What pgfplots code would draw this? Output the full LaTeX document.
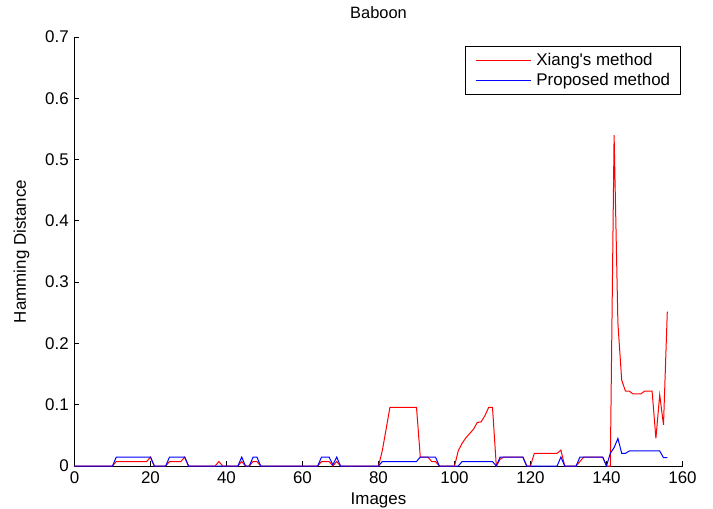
\documentclass[border=0pt]{standalone}
\usepackage{fontspec}
\setmainfont{Liberation Sans}
\usepackage{pgfplots}
\pgfplotsset{compat=1.18}
\begin{document}
\begin{tikzpicture}
\path[use as bounding box] (-74.5bp,-43bp) rectangle (638.5bp,466bp);
\begin{axis}[
  at={(0bp,0bp)}, anchor=south west,
  scale only axis, width=608bp, height=429bp,
  xmin=0, xmax=160, ymin=0, ymax=0.7,
  axis x line*=bottom, axis y line*=left,
  axis line style={black, line width=0.8bp},
  xtick={0,20,40,60,80,100,120,140,160},
  ytick={0,0.1,0.2,0.3,0.4,0.5,0.6,0.7},
  yticklabels={0,0.1,0.2,0.3,0.4,0.5,0.6,0.7},
  tick align=inside, major tick length=5bp,
  tick style={black, line width=0.8bp},
  /pgf/number format/assume math mode=true,
  ticklabel style={font=\fontsize{17}{20}\selectfont},
  yticklabel style={xshift=-2.2bp},
  xticklabel style={yshift=-2.2bp},
  title={Baboon},
  title style={at={(axis description cs:0.5,1.0303)}, anchor=base, yshift=0pt, font=\fontsize{16.5}{20}\selectfont},
  xlabel={Images},
  xlabel style={at={(axis description cs:0.5,-0.0909)}, anchor=base, font=\fontsize{17}{20}\selectfont},
  ylabel={Hamming Distance},
  ylabel style={at={(axis description cs:-0.0798,0.5)}, anchor=base, font=\fontsize{17}{20}\selectfont},
  legend style={at={(axis description cs:0.6423,0.979)}, anchor=north west,
    draw=black, line width=0.8bp, fill=white,
    font=\fontsize{17}{20}\selectfont,
    inner xsep=9.7bp, inner ysep=6bp, row sep=4.5bp,
    nodes={inner xsep=1bp, inner ysep=1bp},
    /tikz/every odd column/.append style={column sep=4.3bp}},
  legend cell align=left,
  legend image code/.code={\draw[#1] (0bp,0bp) -- (55bp,0bp);},
]
\addplot[red, line width=1bp] coordinates {
(0,0)(10,0)(11,0.0073)(19,0.0073)(20,0.0146)(21,0)(24,0)(25,0.0073)(28,0.0073)(29,0.0146)(30,0)
(37,0)(38,0.0073)(39,0)(43,0)(44,0.0073)(45,0)(46,0)(47,0.0073)(48,0.0073)(49,0)
(64,0)(65,0.0073)(67,0.0073)(68,0)(69,0.0073)(70,0)
(80,0)(81,0.025)(82,0.06)(83,0.0957)(90,0.0957)(91,0.0146)(93,0.0146)(94,0.0073)(95,0.0073)(96,0)
(100,0)(101,0.025)(102,0.037)(103,0.046)(104,0.053)(105,0.06)(106,0.071)(107,0.072)(108,0.082)(109,0.0957)(110,0.0957)(111,0)
(112,0.011)(113,0.0146)(118,0.0146)(119,0)(120,0)(121,0.0207)(127,0.0207)(128,0.026)(129,0)(132,0)
(133,0.0073)(134,0.0146)(139,0.0146)(140,0)(141,0)(142,0.54)(143,0.233)(144,0.14)(145,0.122)(146,0.122)
(147,0.1175)(148,0.1175)(149,0.1175)(150,0.122)(151,0.122)(152,0.122)(153,0.045)(154,0.116)(155,0.067)(156,0.252)
};
\addlegendentry{Xiang\textquotesingle s method}
\addplot[blue, line width=1bp] coordinates {
(0,0)(10,0)(11,0.0146)(20,0.0146)(21,0)(24,0)(25,0.0146)(29,0.0146)(30,0)(43,0)(44,0.0146)(45,0)(46,0)
(47,0.0146)(48,0.0146)(49,0)(64,0)(65,0.0146)(67,0.0146)(68,0.002)(69,0.0146)(70,0)(80,0)
(81,0.0073)(90,0.0073)(91,0.0146)(95,0.0146)(96,0)(101,0)(102,0.0073)(110,0.0073)(111,0)
(112,0.0146)(118,0.0146)(119,0)(127,0)(128,0.0146)(129,0)(132,0)(133,0.0146)(139,0.0146)(140,0)
(141,0.0207)(142,0.03)(143,0.045)(144,0.0207)(145,0.0207)(146,0.0245)(154,0.0245)(155,0.0135)(156,0.0135)
};
\addlegendentry{Proposed method}
\end{axis}
\end{tikzpicture}
\end{document}
